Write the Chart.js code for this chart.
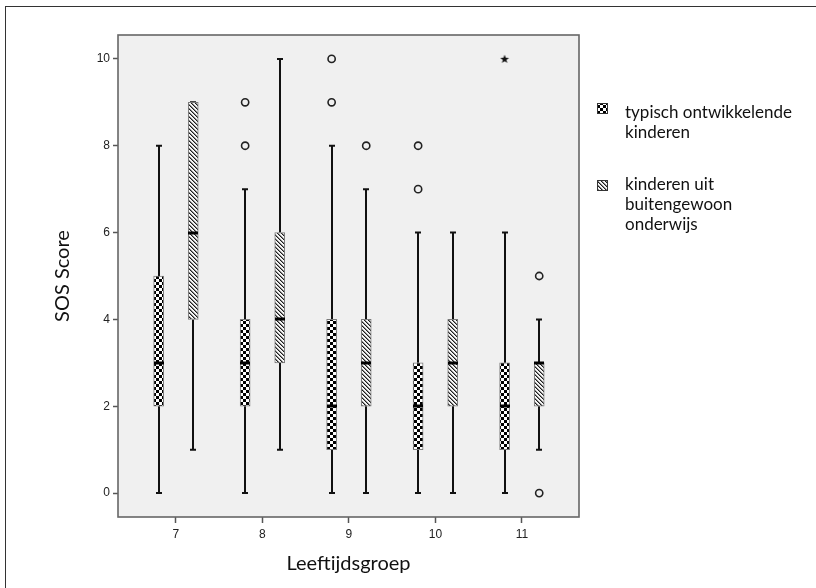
<!DOCTYPE html>
<html>
<head>
<meta charset="utf-8">
<script src="https://cdn.jsdelivr.net/npm/chart.js@4.4.1/dist/chart.umd.min.js"></script>
<style>
  html, body { margin: 0; padding: 0; background: #fff; }
  canvas { display: block; }
</style>
</head>
<body>
<canvas id="boxChart" width="816" height="588"></canvas>
<script>
// leeftijdsgroepen op de x-as
var ageGroups = [7, 8, 9, 10, 11];
var yTicks = [0, 2, 4, 6, 8, 10];

// typisch ontwikkelende kinderen
var typMin = [0, 0, 0, 0, 0];
var typQ1 = [2, 2, 1, 1, 1];
var typMed = [3, 3, 2, 2, 2];
var typQ3 = [5, 4, 4, 3, 3];
var typMax = [8, 7, 8, 6, 6];
var typOutliers = [[], [8, 9], [9, 10], [7, 8], []];
var typExtremes = [[], [], [], [], [10]];

// kinderen uit buitengewoon onderwijs
var boMin = [1, 1, 0, 0, 1];
var boQ1 = [4, 3, 2, 2, 2];
var boMed = [6, 4, 3, 3, 3];
var boQ3 = [9, 6, 4, 4, 3];
var boMax = [9, 10, 7, 6, 4];
var boOutliers = [[], [], [8], [], [0, 5]];
var boExtremes = [[], [], [], [], []];

var seriesLegend = [
    ["typisch ontwikkelende", "kinderen"],
    ["kinderen uit", "buitengewoon", "onderwijs"]
];

var titleFont = "Lato, 'DejaVu Sans', sans-serif";
var tickFont = "'Liberation Sans', Arial, sans-serif";

function makeChecker() {
    var c = document.createElement("canvas");
    c.width = 6; c.height = 6;
    var g = c.getContext("2d");
    g.fillStyle = "#fff";
    g.fillRect(0, 0, 6, 6);
    g.fillStyle = "#000";
    g.fillRect(0, 0, 3, 3);
    g.fillRect(3, 3, 3, 3);
    return c;
}

function makeHatch() {
    var c = document.createElement("canvas");
    c.width = 4; c.height = 4;
    var g = c.getContext("2d");
    g.fillStyle = "#f6f6f6";
    g.fillRect(0, 0, 4, 4);
    for (var px = 0; px < 4; px++) {
        for (var py = 0; py < 4; py++) {
            var d = (px - py + 8) % 4;
            if (d === 0) { g.fillStyle = "#1e1e1e"; g.fillRect(px, py, 1, 1); }
            else if (d === 1) { g.fillStyle = "#8a8a8a"; g.fillRect(px, py, 1, 1); }
        }
    }
    return c;
}

function makeStar() {
    var c = document.createElement("canvas");
    c.width = 10; c.height = 10;
    var g = c.getContext("2d");
    g.fillStyle = "#111";
    g.beginPath();
    for (var k = 0; k < 10; k++) {
        var r = k % 2 === 0 ? 4.6 : 1.9;
        var a = -Math.PI / 2 + k * Math.PI / 5;
        var px = 5 + r * Math.cos(a), py = 5.3 + r * Math.sin(a);
        if (k === 0) g.moveTo(px, py); else g.lineTo(px, py);
    }
    g.closePath();
    g.fill();
    return c;
}

var ctx = document.getElementById("boxChart").getContext("2d");
var checker = ctx.createPattern(makeChecker(), "repeat");
var hatch = ctx.createPattern(makeHatch(), "repeat");
var starImg = makeStar();

var series = [
    { off: -0.2, min: typMin, q1: typQ1, med: typMed, q3: typQ3, max: typMax, out: typOutliers, ext: typExtremes, fill: checker },
    { off: 0.2, min: boMin, q1: boQ1, med: boMed, q3: boQ3, max: boMax, out: boOutliers, ext: boExtremes, fill: hatch }
];

function pointsFrom(s, key) {
    var pts = [];
    ageGroups.forEach(function (g, i) {
        s[key][i].forEach(function (v) { pts.push({ x: g + s.off, y: v }); });
    });
    return pts;
}

var datasets = [];
series.forEach(function (s) {
    datasets.push({
        type: "bar",
        data: ageGroups.map(function (g, i) { return { x: g + s.off, y: [s.q1[i], s.q3[i]] }; }),
        backgroundColor: s.fill,
        borderColor: "#7a7a7a",
        borderWidth: 1,
        borderSkipped: false,
        barThickness: 10,
        grouped: false
    });
    datasets.push({
        type: "scatter",
        data: pointsFrom(s, "out"),
        pointStyle: "circle",
        pointRadius: 3.6,
        pointBorderWidth: 1.6,
        pointBorderColor: "#222",
        pointBackgroundColor: "rgba(0,0,0,0)"
    });
    datasets.push({
        type: "scatter",
        data: pointsFrom(s, "ext"),
        pointStyle: starImg,
        pointRadius: 5
    });
});

var boxPlugin = {
    id: "boxParts",
    beforeDraw: function (chart) {
        var c = chart.ctx, a = chart.chartArea;
        c.save();
        c.strokeStyle = "#333";
        c.lineWidth = 1;
        c.strokeRect(5.5, 6.5, chart.width + 10, chart.height + 10);
        c.fillStyle = "#f0f0f0";
        c.fillRect(a.left, a.top, a.right - a.left, a.bottom - a.top);
        c.restore();
    },
    beforeDatasetsDraw: function (chart) {
        var c = chart.ctx, xs = chart.scales.x, ys = chart.scales.y;
        c.save();
        c.strokeStyle = "#111";
        c.lineWidth = 2;
        series.forEach(function (s) {
            ageGroups.forEach(function (g, i) {
                var px = Math.round(xs.getPixelForValue(g + s.off));
                var lo = ys.getPixelForValue(s.min[i]), hi = ys.getPixelForValue(s.max[i]);
                c.beginPath();
                c.moveTo(px, lo); c.lineTo(px, ys.getPixelForValue(s.q1[i]));
                c.moveTo(px, ys.getPixelForValue(s.q3[i])); c.lineTo(px, hi);
                c.stroke();
                c.beginPath();
                c.moveTo(px - 3, lo); c.lineTo(px + 3, lo);
                c.moveTo(px - 3, hi); c.lineTo(px + 3, hi);
                c.stroke();
            });
        });
        c.restore();
    },
    afterDatasetsDraw: function (chart) {
        var c = chart.ctx, xs = chart.scales.x, ys = chart.scales.y, a = chart.chartArea;
        c.save();
        c.strokeStyle = "#000";
        c.lineWidth = 3;
        series.forEach(function (s) {
            ageGroups.forEach(function (g, i) {
                var px = Math.round(xs.getPixelForValue(g + s.off));
                var py = Math.round(ys.getPixelForValue(s.med[i]));
                c.beginPath();
                c.moveTo(px - 5, py); c.lineTo(px + 5, py);
                c.stroke();
            });
        });
        // kader van het plotvlak
        c.strokeStyle = "#666";
        c.lineWidth = 1.6;
        c.strokeRect(a.left, a.top, a.right - a.left, a.bottom - a.top);
        // legenda
        var lx = a.right + 18;
        var tx = a.right + 46;
        var tops = [103, 180];
        var baselines = [118, 190];
        c.font = "17px " + titleFont;
        c.textBaseline = "alphabetic";
        series.forEach(function (s, k) {
            c.fillStyle = s.fill;
            c.fillRect(lx, tops[k], 11, 11);
            c.strokeStyle = "#333";
            c.lineWidth = 1;
            c.strokeRect(lx + 0.5, tops[k] + 0.5, 10, 10);
            c.fillStyle = "#111";
            seriesLegend[k].forEach(function (line, j) {
                c.fillText(line, tx, baselines[k] + j * 20);
            });
        });
        c.restore();
    }
};

new Chart(ctx, {
    type: "bar",
    data: { datasets: datasets },
    options: {
        responsive: false,
        animation: false,
        layout: { padding: { left: 0, top: 35, right: 237, bottom: 0 } },
        plugins: { legend: { display: false }, tooltip: { enabled: false } },
        scales: {
            x: {
                type: "linear",
                min: 6.33,
                max: 11.66,
                offset: false,
                afterBuildTicks: function (scale) {
                    scale.ticks = ageGroups.map(function (v) { return { value: v }; });
                },
                afterFit: function (scale) { scale.height = 71; },
                grid: { offset: false, drawOnChartArea: false, drawTicks: true, tickLength: 6, tickColor: "#555", tickWidth: 1.5 },
                border: { display: false },
                ticks: { font: { family: tickFont, size: 12 }, color: "#222", padding: 4, maxRotation: 0 },
                title: { display: true, text: "Leeftijdsgroep", font: { family: titleFont, size: 20 }, color: "#111", padding: { top: 0, bottom: 12 } }
            },
            y: {
                type: "linear",
                min: -0.55,
                max: 10.55,
                afterBuildTicks: function (scale) {
                    scale.ticks = yTicks.map(function (v) { return { value: v }; });
                },
                afterFit: function (scale) { scale.width = 118; },
                grid: { drawOnChartArea: false, drawTicks: true, tickLength: 5, tickColor: "#555", tickWidth: 1.5 },
                border: { display: false },
                ticks: { font: { family: tickFont, size: 12 }, color: "#222", padding: 3 },
                title: { display: true, text: "SOS Score", font: { family: titleFont, size: 20 }, color: "#111", padding: { top: 51, bottom: 0 } }
            }
        }
    },
    plugins: [boxPlugin]
});
</script>
</body>
</html>
